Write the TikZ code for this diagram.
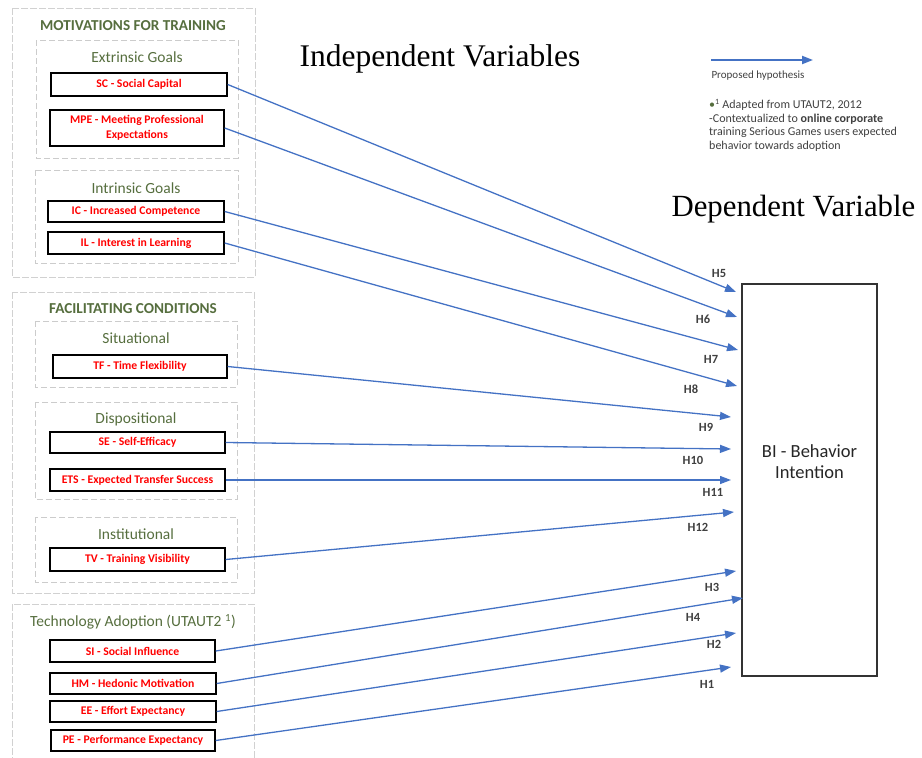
\documentclass[tikz,border=0pt]{standalone}
\usepackage{fontspec}
\setmainfont{Liberation Serif}
\newfontfamily\calibri{Carlito}
\usetikzlibrary{arrows.meta}
\definecolor{hypblue}{RGB}{68,114,196}
\definecolor{varred}{RGB}{255,0,0}
\definecolor{titlegreen}{RGB}{86,110,62}
\definecolor{textgray}{RGB}{64,64,64}
\begin{document}
\begin{tikzpicture}%
	[x=1pt, y=-1pt,
	group/.style={draw=black!18, line width=1pt, dash pattern=on 7pt off 2pt},
	subgroup/.style={draw=black!20, line width=1pt, dash pattern=on 6pt off 3pt},
	grouptitle/.style={font=\calibri\bfseries\fontsize{15.2}{17}\selectfont, text=titlegreen},
	subtitle/.style={font=\calibri\fontsize{15.5}{17}\selectfont, text=titlegreen},
	varbox/.style={draw=black, line width=1.4pt, fill=white, inner sep=0pt, align=center, text=varred, font=\calibri\bfseries\fontsize{11.7}{15}\selectfont},
	bibox/.style={draw=black!80, line width=1.4pt, minimum width=135pt, minimum height=392pt, inner sep=0pt},
	hyp/.style={draw=hypblue, line width=1.3pt, -{Triangle[length=11pt,width=8pt]}},
	hlabel/.style={font=\calibri\bfseries\fontsize{12.5}{14}\selectfont, text=textgray},
	heading/.style={font=\fontsize{31.5}{35}\selectfont, anchor=base west}]
%
\useasboundingbox (0,0) rectangle (922,758);
%%
%% Headings
%%
\node[heading] (indep) at (296,66) {Independent Variables};
\node[heading, font=\fontsize{30.8}{34}\selectfont] (dep) at (668,216) {Dependent Variable};
%%
%% Legend
%%
\coordinate (lg1) at (711,60);
\coordinate (lg2) at (813,60);
\draw[hyp, line width=2pt] (lg1) -- (lg2);
\node[anchor=west, text=textgray, font=\calibri\fontsize{11}{13}\selectfont] (legend) at (708,76) {Proposed hypothesis};
\node[anchor=north west, align=left, inner sep=0pt, text=textgray, font=\calibri\fontsize{12}{13.5}\selectfont] (notes) at (709,99)
	{\textcolor{titlegreen}{•}\textsuperscript{1} Adapted from UTAUT2, 2012\\
	-Contextualized to \textbf{online corporate}\\
	training Serious Games users expected\\
	behavior towards adoption};
%%
%% Groups of independent variables
%%
\draw[group] (12,8) rectangle (255,277);
\draw[subgroup] (36,40) rectangle (238,158);
\draw[subgroup] (35,170) rectangle (238,263);
\draw[group] (12,292) rectangle (254,593);
\draw[subgroup] (35,321) rectangle (237,387);
\draw[subgroup] (35,402) rectangle (237,499);
\draw[subgroup] (35,517) rectangle (237,582);
\draw[group] (12,764) -- (12,604) -- (254,604) -- (254,764);
%%
\node[grouptitle] (mot) at (133,26) {MOTIVATIONS FOR TRAINING};
\node[subtitle] (extr) at (137,57) {Extrinsic Goals};
\node[subtitle] (intr) at (136,188) {Intrinsic Goals};
\node[grouptitle] (fac) at (133,309) {FACILITATING CONDITIONS};
\node[subtitle] (sit) at (136,338) {Situational};
\node[subtitle] (disp) at (136,419) {Dispositional};
\node[subtitle] (inst) at (136,534) {Institutional};
\node[subtitle] (tech) at (133,622) {Technology Adoption (UTAUT2 \textsuperscript{1})};
%%
%% Variables
%%
\node[varbox, minimum width=176pt, minimum height=23pt] (sc) at (139,84.5) {SC - Social Capital};
\node[varbox, minimum width=174pt, minimum height=36pt] (mpe) at (137,128) {MPE - Meeting Professional\\Expectations};
\node[varbox, minimum width=176pt, minimum height=21pt] (ic) at (136,211.5) {IC - Increased Competence};
\node[varbox, minimum width=176pt, minimum height=22pt] (il) at (136,243) {IL - Interest in Learning};
\node[varbox, minimum width=174pt, minimum height=23pt] (tf) at (140,366.5) {TF - Time Flexibility};
\node[varbox, minimum width=175pt, minimum height=21pt] (se) at (137.5,442.5) {SE - Self-Efficacy};
\node[varbox, minimum width=175pt, minimum height=22pt] (ets) at (137.5,480) {ETS - Expected Transfer Success};
\node[varbox, minimum width=175pt, minimum height=23pt] (tv) at (137.5,559.5) {TV - Training Visibility};
\node[varbox, minimum width=165pt, minimum height=22pt] (si) at (132.5,651) {SI - Social Influence};
\node[varbox, minimum width=166pt, minimum height=21pt] (hm) at (133,683.5) {HM - Hedonic Motivation};
\node[varbox, minimum width=166pt, minimum height=21pt] (ee) at (133,711.5) {EE - Effort Expectancy};
\node[varbox, minimum width=164pt, minimum height=21pt] (pe) at (133,740.5) {PE - Performance Expectancy};
%%
%% Dependent variable
%%
\node[bibox] (bi) at (809.5,480) {};
\node[align=center, text=black!85, font=\calibri\fontsize{18.5}{21}\selectfont] (bitext) at (809.5,462) {BI - Behavior\\Intention};
%%
%% Arrow tips
%%
\coordinate (t5) at (736,292);
\coordinate (t6) at (737,317);
\coordinate (t7) at (738,350);
\coordinate (t8) at (737,386);
\coordinate (t9) at (731,417);
\coordinate (t10) at (731,449);
\coordinate (t11) at (731,480);
\coordinate (t12) at (734,512);
\coordinate (t3) at (736,571);
\coordinate (t4) at (743,598);
\coordinate (t2) at (736,633);
\coordinate (t1) at (731,667);
%%
%% Hypotheses
%%
\draw[hyp] (sc.east) -- (t5);
\draw[hyp] (mpe.east) -- (t6);
\draw[hyp] (ic.east) -- (t7);
\draw[hyp] (il.east) -- (t8);
\draw[hyp] (tf.east) -- (t9);
\draw[hyp] (se.east) -- (t10);
\draw[hyp] (ets.east) -- (t11);
\draw[hyp] (tv.east) -- (t12);
\draw[hyp] (si.east) -- (t3);
\draw[hyp] (hm.east) -- (t4);
\draw[hyp] (ee.east) -- (t2);
\draw[hyp] (pe.east) -- (t1);
%%
\node[hlabel] (l5) at (719,273) {H5};
\node[hlabel] (l6) at (703,319) {H6};
\node[hlabel] (l7) at (711,359) {H7};
\node[hlabel] (l8) at (691,389) {H8};
\node[hlabel] (l9) at (706,427) {H9};
\node[hlabel] (l10) at (693,460) {H10};
\node[hlabel] (l11) at (713,492) {H11};
\node[hlabel] (l12) at (698,527) {H12};
\node[hlabel] (l3) at (712,587) {H3};
\node[hlabel] (l4) at (693,617) {H4};
\node[hlabel] (l2) at (714,644) {H2};
\node[hlabel] (l1) at (707,684) {H1};
%%
\end{tikzpicture}
\end{document}
